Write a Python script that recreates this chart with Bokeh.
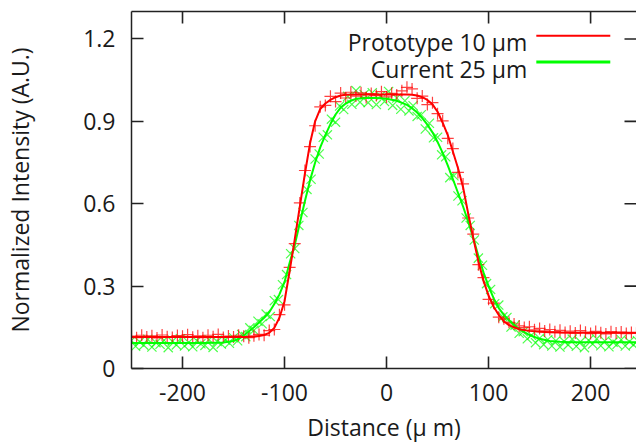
from bokeh.plotting import figure
from bokeh.models import LinearAxis, FixedTicker, Label, Range1d, ColumnDataSource
from bokeh.embed import file_html
from bokeh.resources import INLINE

# ---------------- data ----------------
x_ticks = [-200, -100, 0, 100, 200]
x_tick_labels = ["-200", "-100", "0", "100", "200"]
y_ticks = [0, 0.3, 0.6, 0.9, 1.2]
y_tick_labels = ["0", "0.3", "0.6", "0.9", "1.2"]

series_names = ["Prototype 10 μm", "Current 25 μm"]

# Prototype 10 um : measured points (+)
proto_x = list(range(-250, 246, 5))
proto_y = [
    0.118, 0.112, 0.121, 0.115, 0.119, 0.111, 0.122, 0.116, 0.113, 0.120,
    0.117, 0.123, 0.114, 0.119, 0.112, 0.121, 0.116, 0.124, 0.113, 0.118,
    0.115, 0.121, 0.117, 0.112, 0.119, 0.124, 0.121, 0.138, 0.142, 0.196,
    0.232, 0.368, 0.455, 0.603, 0.721, 0.808, 0.884, 0.953, 0.958, 0.991,
    0.972, 1.003, 0.985, 1.006, 0.992, 1.004, 0.987, 1.001, 0.994, 1.008,
    0.989, 1.002, 0.996, 1.011, 1.024, 1.018, 0.984, 0.992, 0.961, 0.968,
    0.928, 0.902, 0.838, 0.801, 0.714, 0.672, 0.548, 0.489, 0.378, 0.331,
    0.252, 0.238, 0.187, 0.181, 0.168, 0.162, 0.155, 0.149, 0.152, 0.141,
    0.146, 0.137, 0.142, 0.134, 0.139, 0.131, 0.136, 0.129, 0.138, 0.132,
    0.127, 0.135, 0.130, 0.126, 0.134, 0.129, 0.133, 0.127, 0.131, 0.128,
]

# Prototype 10 um : fitted curve
proto_fit_x = [-250, -240, -230, -220, -210, -200, -190, -180, -170, -160,
               -150, -140, -130, -125, -120, -115, -110, -105, -100, -95,
               -90, -85, -80, -75, -70, -65, -60, -55, -50, -45,
               -40, -30, -20, -10, 0, 10, 20, 25, 30, 35,
               40, 45, 50, 55, 60, 65, 70, 75, 80, 85,
               90, 95, 100, 105, 110, 115, 120, 125, 130, 140,
               150, 160, 170, 180, 190, 200, 210, 220, 230, 240, 250]
proto_fit_y = [0.115, 0.115, 0.115, 0.115, 0.115, 0.115, 0.115, 0.115, 0.115, 0.115,
               0.115, 0.115, 0.116, 0.118, 0.122, 0.130, 0.148, 0.185, 0.245, 0.355,
               0.470, 0.590, 0.710, 0.820, 0.900, 0.945, 0.965, 0.978, 0.988, 0.994,
               0.997, 0.998, 0.998, 0.998, 0.998, 0.998, 0.998, 0.997, 0.994, 0.988,
               0.978, 0.962, 0.935, 0.895, 0.850, 0.790, 0.730, 0.660, 0.565, 0.475,
               0.390, 0.320, 0.265, 0.225, 0.195, 0.172, 0.158, 0.150, 0.143, 0.137,
               0.134, 0.132, 0.131, 0.130, 0.130, 0.130, 0.130, 0.130, 0.130, 0.130, 0.130]

# Current 25 um : measured points (x)
current_x = list(range(-250, 247, 4))
current_y = [
    0.102, 0.081, 0.097, 0.085, 0.106, 0.078, 0.094, 0.088, 0.103, 0.076,
    0.099, 0.086, 0.108, 0.082, 0.095, 0.079, 0.101, 0.090, 0.084, 0.105,
    0.077, 0.098, 0.089, 0.104, 0.092, 0.112, 0.101, 0.124, 0.116, 0.148,
    0.139, 0.172, 0.163, 0.198, 0.189, 0.247, 0.251, 0.305, 0.342, 0.418,
    0.437, 0.521, 0.568, 0.652, 0.689, 0.763, 0.781, 0.842, 0.851, 0.908,
    0.897, 0.956, 0.943, 0.991, 0.962, 1.012, 0.970, 0.998, 0.968, 1.004,
    0.961, 0.992, 0.972, 1.009, 0.958, 0.985, 0.944, 0.975, 0.938, 0.957,
    0.918, 0.924, 0.872, 0.893, 0.840, 0.842, 0.778, 0.771, 0.695, 0.702,
    0.628, 0.611, 0.548, 0.521, 0.468, 0.402, 0.376, 0.309, 0.288, 0.236,
    0.231, 0.188, 0.186, 0.151, 0.158, 0.128, 0.134, 0.108, 0.121, 0.094,
    0.110, 0.087, 0.105, 0.082, 0.101, 0.078, 0.099, 0.086, 0.107, 0.081,
    0.097, 0.076, 0.103, 0.089, 0.108, 0.083, 0.100, 0.079, 0.096, 0.088,
    0.105, 0.082, 0.098, 0.086, 0.101,
]

# Current 25 um : fitted curve
current_fit_x = [-250, -240, -230, -220, -210, -200, -190, -180, -170, -160,
                 -150, -145, -140, -130, -120, -115, -110, -105, -100, -95,
                 -90, -85, -80, -75, -70, -65, -60, -55, -50, -45,
                 -40, -35, -30, -20, -10, 0, 10, 20, 25, 30,
                 35, 40, 45, 50, 55, 60, 65, 70, 75, 80,
                 85, 90, 95, 100, 105, 110, 115, 120, 125, 130,
                 140, 150, 160, 170, 180, 190, 200, 210, 220, 230, 240, 250]
current_fit_y = [0.093, 0.093, 0.093, 0.093, 0.093, 0.093, 0.093, 0.093, 0.094, 0.095,
                 0.100, 0.108, 0.120, 0.150, 0.185, 0.205, 0.235, 0.270, 0.315, 0.385,
                 0.450, 0.530, 0.610, 0.685, 0.750, 0.805, 0.850, 0.890, 0.925, 0.950,
                 0.965, 0.975, 0.982, 0.985, 0.985, 0.982, 0.975, 0.960, 0.948, 0.932,
                 0.912, 0.888, 0.860, 0.825, 0.785, 0.740, 0.690, 0.640, 0.590, 0.535,
                 0.475, 0.410, 0.350, 0.300, 0.255, 0.220, 0.195, 0.175, 0.158, 0.143,
                 0.122, 0.108, 0.100, 0.097, 0.096, 0.096, 0.096, 0.096, 0.096, 0.096, 0.096, 0.096]

x_title = "Distance (μ m)"
y_title = "Normalized Intensity (A.U.)"

# ---------------- styles ----------------
FONT = "Open Sans"
FS = "23px"
TXT = "#1a1a1a"
AX = "#222222"
RED = "#ff0000"
GREEN = "#00ff00"

X0, X1, Y0, Y1 = -250, 245, 0, 1.3
FRAME_W, FRAME_H = 505, 358
TICK_PX = 12

p = figure(width=636, height=445,
           x_range=Range1d(X0, X1), y_range=Range1d(Y0, Y1),
           output_backend="svg", toolbar_location=None,
           min_border_left=131, min_border_right=0,
           min_border_top=11, min_border_bottom=76)
p.outline_line_color = None
p.xgrid.visible = False
p.ygrid.visible = False
p.background_fill_color = "white"
p.border_fill_color = "white"


def style_axis(ax, ticks, labels, show_labels=True):
    ax.ticker = FixedTicker(ticks=ticks)
    ax.major_label_overrides = dict(zip(ticks, labels))
    ax.major_tick_in = TICK_PX
    ax.major_tick_out = 0
    ax.major_tick_line_color = AX
    ax.major_tick_line_width = 1.6
    ax.minor_tick_line_color = None
    ax.axis_line_color = AX
    ax.axis_line_width = 1.5
    ax.major_label_text_font = FONT
    ax.major_label_text_color = TXT
    if show_labels:
        ax.major_label_text_font_size = FS
    else:
        ax.major_label_text_font_size = "1px"
        ax.major_label_text_alpha = 0
        ax.major_label_standoff = 0
        ax.major_tick_line_color = None


xa = p.xaxis[0]
style_axis(xa, x_ticks, x_tick_labels)
xa.major_label_standoff = 15
xa.axis_label = x_title
xa.axis_label_text_font = FONT
xa.axis_label_text_font_size = FS
xa.axis_label_text_font_style = "normal"
xa.axis_label_text_color = TXT
xa.axis_label_standoff = 7

ya = p.yaxis[0]
style_axis(ya, y_ticks, y_tick_labels)
ya.major_label_standoff = 16
ya.axis_label = y_title
ya.axis_label_text_font = FONT
ya.axis_label_text_font_size = FS
ya.axis_label_text_font_style = "normal"
ya.axis_label_text_color = TXT
ya.axis_label_standoff = 44

# top border (mirror axis, line only)
top_ax = LinearAxis()
style_axis(top_ax, x_ticks, x_tick_labels, show_labels=False)
p.add_layout(top_ax, "above")

# mirrored inward ticks on the top and right edges, derived from the tick arrays
dy = TICK_PX * (Y1 - Y0) / FRAME_H
dx = TICK_PX * (X1 - X0) / FRAME_W
p.segment(x0=x_ticks, x1=x_ticks, y0=[Y1] * len(x_ticks), y1=[Y1 - dy] * len(x_ticks),
          line_color=AX, line_width=1.6)
p.segment(x0=[X1] * len(y_ticks), x1=[X1 - dx] * len(y_ticks), y0=y_ticks, y1=y_ticks,
          line_color=AX, line_width=1.6)

# ---------------- marks ----------------
src_proto = ColumnDataSource(dict(x=proto_x, y=proto_y))
src_cur = ColumnDataSource(dict(x=current_x, y=current_y))

p.scatter("x", "y", source=src_cur, marker="x", size=13, line_color=GREEN,
          line_alpha=0.7, line_width=1.2)
p.scatter("x", "y", source=src_proto, marker="cross", size=12, line_color=RED,
          line_alpha=0.75, line_width=1.2)
p.line(current_fit_x, current_fit_y, line_color=GREEN, line_width=2)
p.line(proto_fit_x, proto_fit_y, line_color=RED, line_width=2)

# ---------------- legend (gnuplot style: text left, sample right) ----------------
leg_text_x = 137.9
leg_line_x = [146.8, 219.3]
leg_rows = [(1.1876, 1.2120, RED, 2), (1.0911, 1.1157, GREEN, 3)]
for name, (ty, ly, col, lw) in zip(series_names, leg_rows):
    p.add_layout(Label(x=leg_text_x, y=ty, text=name, text_align="right",
                       text_baseline="alphabetic", text_font=FONT,
                       text_font_size=FS, text_color=TXT))
    p.line(leg_line_x, [ly, ly], line_color=col, line_width=lw)

open("out.html", "w").write(file_html(p, INLINE))
